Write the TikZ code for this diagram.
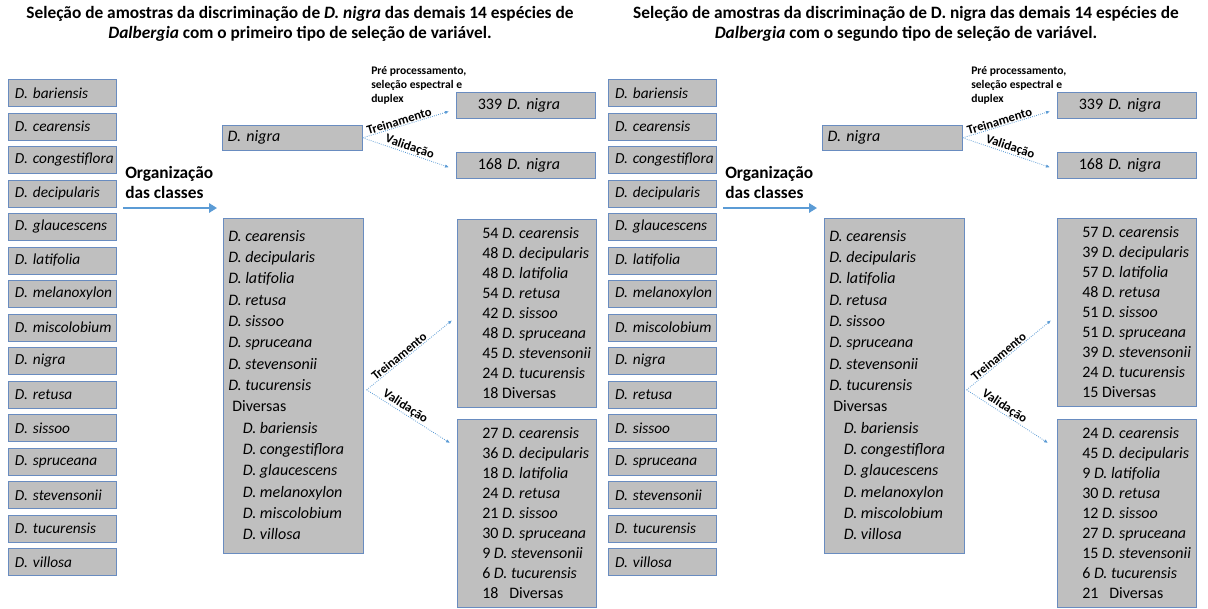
\documentclass[tikz,border=0pt]{standalone}
\usepackage{fontspec}
\setmainfont{Carlito}
\usetikzlibrary{arrows.meta}
\definecolor{boxgray}{RGB}{191,191,191}
\definecolor{boxline}{RGB}{105,140,192}
\definecolor{arrowblue}{RGB}{91,155,213}
\tikzset{
  spbox/.style={draw=boxline, line width=0.5pt, fill=boxgray, anchor=north west,
    minimum width=81pt, minimum height=20.25pt, inner xsep=5pt, inner ysep=0pt,
    text width=71pt, align=left, font=\fontsize{11.5}{13}\selectfont\itshape},
  grbox/.style={draw=boxline, line width=0.5pt, fill=boxgray, anchor=north west, inner sep=0pt},
  listtxt/.style={anchor=north west, inner sep=0pt, align=left},
  dotarrow/.style={arrowblue, densely dotted, line width=0.6pt, -{Latex[length=3pt,width=2.6pt]}},
  orgarrow/.style={arrowblue, line width=2pt, -{Triangle[length=6pt,width=7pt]}},
  lbl/.style={text=black, font=\fontsize{9.5}{11}\selectfont\bfseries, inner sep=0.5pt}
}
\begin{document}
\begin{tikzpicture}[x=0.75pt, y=-0.75pt]
      \useasboundingbox (0,0) rectangle (1208,608);
      %
      % titulos
      \node[align=center, font=\fontsize{13}{15}\selectfont\bfseries] (titA) at (300,24)
        {Seleção de amostras da discriminação de \textit{D. nigra} das demais 14 espécies de\\
         \textit{Dalbergia} com o primeiro tipo de seleção de variável.};
      \node[align=center, font=\fontsize{13}{15}\selectfont\bfseries] (titB) at (906,24)
        {Seleção de amostras da discriminação de D. nigra das demais 14 espécies de\\
         \textit{Dalbergia} com o segundo tipo de seleção de variável.};
      %
      % especies
      \foreach \sp [count=\i from 0] in {bariensis, cearensis, congestiflora, decipularis,
          glaucescens, latifolia, melanoxylon, miscolobium, nigra, retusa, sissoo,
          spruceana, stevensonii, tucurensis, villosa}{
        \node[spbox] (a\i) at (8,79+33.5*\i) {\mbox{D. \sp}};
        \node[spbox] (b\i) at (608,79+33.5*\i) {\mbox{D. \sp}};
      }
      %
      % primeira parte
      \node[anchor=west, inner sep=0pt, align=left, font=\fontsize{13}{15}\selectfont\bfseries] (orgA)
        at (125,182) {Organização\\das classes};
      \coordinate (orgAs) at (123,208);
      \coordinate (orgAe) at (217,208);
      \draw[orgarrow] (orgAs) -- (orgAe);
      %
      \node[grbox, minimum width=105pt, minimum height=18.75pt, text width=97pt, inner xsep=4pt,
        align=left, font=\fontsize{12}{13}\selectfont\itshape] (nigA) at (222,125) {D. nigra};
      \node[grbox, minimum width=104.25pt, minimum height=19.5pt, text width=72pt, inner xsep=0pt,
        align=left, font=\fontsize{12}{13}\selectfont] (n339A) at (456,92) {339 \textit{D. nigra}};
      \node[grbox, minimum width=104.25pt, minimum height=19.5pt, text width=72pt, inner xsep=0pt,
        align=left, font=\fontsize{12}{13}\selectfont] (n168A) at (456,152) {168 \textit{D. nigra}};
      \node[listtxt, font=\fontsize{8.7}{10.5}\selectfont\bfseries] (preA) at (371,66)
        {Pré processamento,\\seleção espectral e\\duplex};
      \draw[dotarrow] (nigA.east) -- node[lbl, sloped, above, pos=0.44]{Treinamento}
        ([shift={(-7,6)}]n339A.west);
      \draw[dotarrow] (nigA.east) -- node[lbl, sloped, above, pos=0.52]{Validação}
        ([shift={(-7,2)}]n168A.west);
      %
      \node[grbox, minimum width=105pt, minimum height=251.25pt] (clsA) at (223,218) {};
      \node[listtxt, font=\fontsize{12}{16}\selectfont] (clsAtxt) at (228,230)
        {\textit{D. cearensis}\\ \textit{D. decipularis}\\ \textit{D. latifolia}\\
         \textit{D. retusa}\\ \textit{D. sissoo}\\ \textit{D. spruceana}\\
         \textit{D. stevensonii}\\ \textit{D. tucurensis}\\ \hspace*{3pt}Diversas\\
         \hspace*{11pt}\textit{D. bariensis}\\ \hspace*{11pt}\textit{D. congestiflora}\\
         \hspace*{11pt}\textit{D. glaucescens}\\ \hspace*{11pt}\textit{D. melanoxylon}\\
         \hspace*{11pt}\textit{D. miscolobium}\\ \hspace*{11pt}\textit{D. villosa}};
      %
      \node[grbox, minimum width=104.25pt, minimum height=141pt] (trA) at (457,219) {};
      \node[listtxt, font=\fontsize{12}{15}\selectfont] (trAtxt) at (482,227)
        {54 \textit{D. cearensis}\\ 48 \textit{D. decipularis}\\ 48 \textit{D. latifolia}\\
         54 \textit{D. retusa}\\ 42 \textit{D. sissoo}\\ 48 \textit{D. spruceana}\\
         45 \textit{D. stevensonii}\\ 24 \textit{D. tucurensis}\\ 18 Diversas};
      \node[grbox, minimum width=104.25pt, minimum height=141pt] (vaA) at (457,419) {};
      \node[listtxt, font=\fontsize{12}{15}\selectfont] (vaAtxt) at (482,427)
        {27 \textit{D. cearensis}\\ 36 \textit{D. decipularis}\\ 18 \textit{D. latifolia}\\
         24 \textit{D. retusa}\\ 21 \textit{D. sissoo}\\ 30 \textit{D. spruceana}\\
         9 \textit{D. stevensonii}\\ 6 \textit{D. tucurensis}\\ 18\ \ \ Diversas};
      \draw[dotarrow] ([shift={(3,4)}]clsA.east) -- node[lbl, sloped, above, pos=0.42]{Treinamento}
        ([shift={(-5,7)}]trA.west);
      \draw[dotarrow] ([shift={(3,4)}]clsA.east) -- node[lbl, sloped, above, pos=0.42]{Validação}
        ([shift={(-7,24)}]vaA.north west);
      %
      % segunda parte
      \node[anchor=west, inner sep=0pt, align=left, font=\fontsize{13}{15}\selectfont\bfseries] (orgB)
        at (725,182) {Organização\\das classes};
      \coordinate (orgBs) at (723,208);
      \coordinate (orgBe) at (817,208);
      \draw[orgarrow] (orgBs) -- (orgBe);
      %
      \node[grbox, minimum width=105pt, minimum height=18.75pt, text width=97pt, inner xsep=4pt,
        align=left, font=\fontsize{12}{13}\selectfont\itshape] (nigB) at (822,125) {D. nigra};
      \node[grbox, minimum width=104.25pt, minimum height=19.5pt, text width=72pt, inner xsep=0pt,
        align=left, font=\fontsize{12}{13}\selectfont] (n339B) at (1057,92) {339 \textit{D. nigra}};
      \node[grbox, minimum width=104.25pt, minimum height=19.5pt, text width=72pt, inner xsep=0pt,
        align=left, font=\fontsize{12}{13}\selectfont] (n168B) at (1057,152) {168 \textit{D. nigra}};
      \node[listtxt, font=\fontsize{8.7}{10.5}\selectfont\bfseries] (preB) at (971,66)
        {Pré processamento,\\seleção espectral e\\duplex};
      \draw[dotarrow] (nigB.east) -- node[lbl, sloped, above, pos=0.44]{Treinamento}
        ([shift={(-7,6)}]n339B.west);
      \draw[dotarrow] (nigB.east) -- node[lbl, sloped, above, pos=0.52]{Validação}
        ([shift={(-7,2)}]n168B.west);
      %
      \node[grbox, minimum width=105pt, minimum height=251.25pt] (clsB) at (824,218) {};
      \node[listtxt, font=\fontsize{12}{16}\selectfont] (clsBtxt) at (829,230)
        {\textit{D. cearensis}\\ \textit{D. decipularis}\\ \textit{D. latifolia}\\
         \textit{D. retusa}\\ \textit{D. sissoo}\\ \textit{D. spruceana}\\
         \textit{D. stevensonii}\\ \textit{D. tucurensis}\\ \hspace*{3pt}Diversas\\
         \hspace*{11pt}\textit{D. bariensis}\\ \hspace*{11pt}\textit{D. congestiflora}\\
         \hspace*{11pt}\textit{D. glaucescens}\\ \hspace*{11pt}\textit{D. melanoxylon}\\
         \hspace*{11pt}\textit{D. miscolobium}\\ \hspace*{11pt}\textit{D. villosa}};
      %
      \node[grbox, minimum width=104.25pt, minimum height=141pt] (trB) at (1057,218) {};
      \node[listtxt, font=\fontsize{12}{15}\selectfont] (trBtxt) at (1082,226)
        {57 \textit{D. cearensis}\\ 39 \textit{D. decipularis}\\ 57 \textit{D. latifolia}\\
         48 \textit{D. retusa}\\ 51 \textit{D. sissoo}\\ 51 \textit{D. spruceana}\\
         39 \textit{D. stevensonii}\\ 24 \textit{D. tucurensis}\\ 15 Diversas};
      \node[grbox, minimum width=104.25pt, minimum height=141pt] (vaB) at (1057,419) {};
      \node[listtxt, font=\fontsize{12}{15}\selectfont] (vaBtxt) at (1082,427)
        {24 \textit{D. cearensis}\\ 45 \textit{D. decipularis}\\ 9 \textit{D. latifolia}\\
         30 \textit{D. retusa}\\ 12 \textit{D. sissoo}\\ 27 \textit{D. spruceana}\\
         15 \textit{D. stevensonii}\\ 6 \textit{D. tucurensis}\\ 21\ \ \ Diversas};
      \draw[dotarrow] ([shift={(2,4)}]clsB.east) -- node[lbl, sloped, above, pos=0.42]{Treinamento}
        ([shift={(-6,8)}]trB.west);
      \draw[dotarrow] ([shift={(2,4)}]clsB.east) -- node[lbl, sloped, above, pos=0.42]{Validação}
        ([shift={(-9,24)}]vaB.north west);
      %
    \end{tikzpicture}
\end{document}
